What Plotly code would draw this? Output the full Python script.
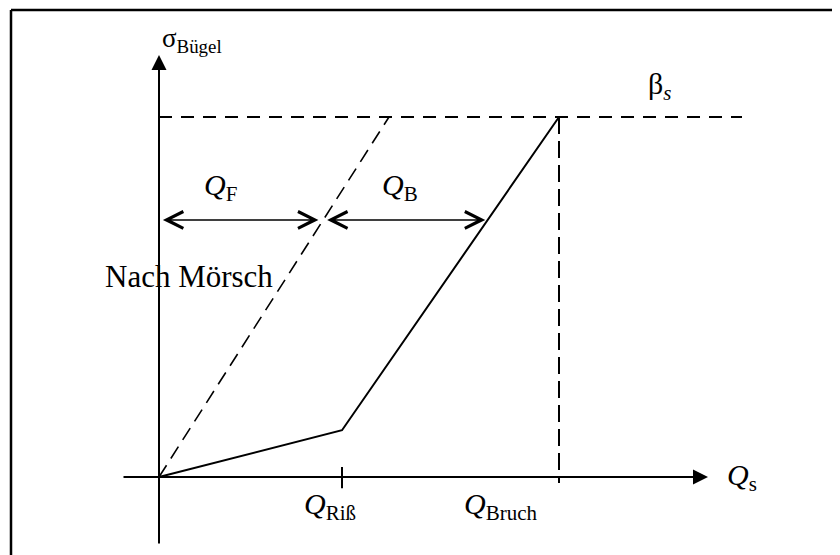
import plotly.graph_objects as go

# Schematic values (Q normalised to Q_Bruch, sigma normalised to beta_s)
Q_RISS = 0.4575          # shear force at cracking
SIGMA_RISS = 0.13        # stirrup stress at cracking
Q_BRUCH = 1.0            # shear force at failure
BETA_S = 1.0             # yield stress of stirrups
Q_MOERSCH_TOP = 0.575    # Q where Mörsch line reaches beta_s
ARROW_LEVEL = 0.714      # sigma level of the Q_F / Q_B dimension arrows

# axis extents
X_AXIS = [-0.0925, 1.3725]
Y_AXIS = [-0.189, 1.172]
BETA_LINE_END = 1.4575

labels = {
    "sigma": "σ<sub>Bügel</sub>",
    "beta": "β<sub><i>s</i></sub>",
    "qf": "<i>Q</i><sub>F</sub>",
    "qb": "<i>Q</i><sub>B</sub>",
    "moersch": "Nach Mörsch",
    "qriss": "<i>Q</i><sub>Riß</sub>",
    "qbruch": "<i>Q</i><sub>Bruch</sub>",
    "qs": "<i>Q</i><sub>s</sub>",
}

FONT = "Liberation Serif, Times New Roman, serif"
BLACK = "#000000"

fig = go.Figure()

# real behaviour (solid)
fig.add_trace(go.Scatter(x=[0, Q_RISS, Q_BRUCH], y=[0, SIGMA_RISS, BETA_S],
                         mode="lines", line=dict(color=BLACK, width=2)))
# Mörsch line (dashed)
fig.add_trace(go.Scatter(x=[0, Q_MOERSCH_TOP], y=[0, BETA_S], mode="lines",
                         line=dict(color=BLACK, width=1.6, dash="14px,8px")))
# beta_s level
fig.add_trace(go.Scatter(x=[0, BETA_LINE_END], y=[BETA_S, BETA_S], mode="lines",
                         line=dict(color=BLACK, width=2, dash="13px,9px")))
# vertical at Q_Bruch
fig.add_trace(go.Scatter(x=[Q_BRUCH, Q_BRUCH], y=[BETA_S, -0.017], mode="lines",
                         line=dict(color=BLACK, width=2, dash="17px,7px")))
# tick at Q_Riss
fig.add_trace(go.Scatter(x=[Q_RISS, Q_RISS], y=[0.028, -0.031], mode="lines",
                         line=dict(color=BLACK, width=2)))

ann = []
# axes with arrow heads
ann.append(dict(x=X_AXIS[1], y=0, ax=X_AXIS[0], ay=0, xref="x", yref="y",
                axref="x", ayref="y", text="", showarrow=True, arrowhead=2,
                arrowsize=1.5, arrowwidth=2, arrowcolor=BLACK, standoff=0))
ann.append(dict(x=0, y=Y_AXIS[1], ax=0, ay=Y_AXIS[0], xref="x", yref="y",
                axref="x", ayref="y", text="", showarrow=True, arrowhead=2,
                arrowsize=1.5, arrowwidth=2, arrowcolor=BLACK, standoff=0))

# dimension arrows
q_cross_dash = Q_MOERSCH_TOP * ARROW_LEVEL / BETA_S
q_cross_solid = Q_RISS + (ARROW_LEVEL - SIGMA_RISS) / (BETA_S - SIGMA_RISS) * (Q_BRUCH - Q_RISS)
for a, b in [(0.006, q_cross_dash - 0.012), (q_cross_dash + 0.006, q_cross_solid - 0.006)]:
    ann.append(dict(x=b, y=ARROW_LEVEL, ax=a, ay=ARROW_LEVEL, xref="x", yref="y",
                    axref="x", ayref="y", text="", showarrow=True,
                    arrowhead=5, startarrowhead=5, arrowside="end+start",
                    arrowsize=2.2, startarrowsize=2.2, arrowwidth=1.5,
                    arrowcolor=BLACK, standoff=0, startstandoff=0))

def txt(key, x, y, xanchor="center", size=30):
    ann.append(dict(x=x, y=y, xref="x", yref="y", text=labels[key],
                    showarrow=False, xanchor=xanchor, yanchor="middle",
                    font=dict(family=FONT, size=size, color=BLACK)))

txt("sigma", 0.002, 1.215, xanchor="left", size=27)
txt("beta", 1.25, 1.085)
txt("qf", 0.1525, 0.805)
txt("qb", 0.6025, 0.805)
txt("moersch", 0.075, 0.556, size=31)
txt("qriss", 0.4275, -0.08)
txt("qbruch", 0.8525, -0.08)
txt("qs", 1.415, 0.0, xanchor="left")

# page is offset by the 8px body margin, so ranges are shifted accordingly
fig.update_layout(
    width=840, height=555,
    margin=dict(l=0, r=0, t=0, b=0),
    paper_bgcolor="white", plot_bgcolor="white",
    showlegend=False,
    xaxis=dict(range=[-0.3775, 1.7225], visible=False, fixedrange=True),
    yaxis=dict(range=[-0.2389, 1.3028], visible=False, fixedrange=True),
    annotations=ann,
    shapes=[
        dict(type="line", xref="paper", yref="paper", x0=3 / 840, x1=1.0,
             y0=1 - 2 / 555, y1=1 - 2 / 555, line=dict(color=BLACK, width=2.5)),
        dict(type="line", xref="paper", yref="paper", x0=3 / 840, x1=3 / 840,
             y0=0, y1=1 - 2 / 555, line=dict(color=BLACK, width=2.5)),
    ],
)

fig.write_html("out.html")
